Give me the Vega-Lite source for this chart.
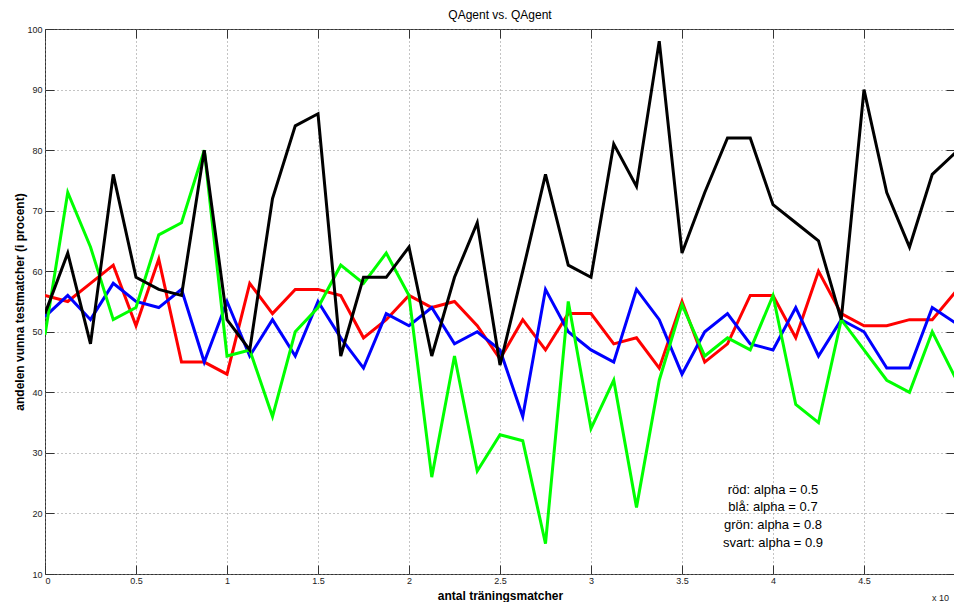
{
  "$schema": "https://vega.github.io/schema/vega-lite/v6.json",
  "width": 910,
  "height": 545,
  "autosize": {"type": "none"},
  "padding": {"left": 45, "top": 29, "right": 0, "bottom": 28},
  "background": "white",
  "config": {
    "view": {"stroke": "#333333", "strokeWidth": 1},
    "font": "Liberation Sans",
    "axis": {
      "grid": true,
      "gridColor": "#888888",
      "gridDash": [1, 3],
      "gridOpacity": 1,
      "domain": false,
      "tickColor": "#333333",
      "tickSize": -9,
      "labelFont": "Liberation Sans",
      "labelFontSize": 9,
      "labelColor": "#222222",
      "titleFont": "Liberation Sans",
      "titleFontSize": 12,
      "titleFontWeight": "bold",
      "titleColor": "#000000"
    }
  },
  "title": {
    "text": "QAgent vs. QAgent",
    "fontSize": 12,
    "fontWeight": "normal",
    "font": "Liberation Sans",
    "color": "#000000",
    "offset": 3
  },
  "resolve": {"axis": {"x": "independent", "y": "independent"}},
  "datasets": {
    "lines": [
      {"s":"röd","x":0,"v":56},{"s":"röd","x":0.125,"v":55},{"s":"röd","x":0.25,"v":58},{"s":"röd","x":0.375,"v":61},{"s":"röd","x":0.5,"v":51},{"s":"röd","x":0.625,"v":62},{"s":"röd","x":0.75,"v":45},{"s":"röd","x":0.875,"v":45},{"s":"röd","x":1,"v":43},{"s":"röd","x":1.125,"v":58},{"s":"röd","x":1.25,"v":53},{"s":"röd","x":1.375,"v":57},{"s":"röd","x":1.5,"v":57},{"s":"röd","x":1.625,"v":56},{"s":"röd","x":1.75,"v":49},{"s":"röd","x":1.875,"v":52},{"s":"röd","x":2,"v":56},{"s":"röd","x":2.125,"v":54},{"s":"röd","x":2.25,"v":55},{"s":"röd","x":2.375,"v":51},{"s":"röd","x":2.5,"v":45.5},{"s":"röd","x":2.625,"v":52},{"s":"röd","x":2.75,"v":47},{"s":"röd","x":2.875,"v":53},{"s":"röd","x":3,"v":53},{"s":"röd","x":3.125,"v":48},{"s":"röd","x":3.25,"v":49},{"s":"röd","x":3.375,"v":44},{"s":"röd","x":3.5,"v":55},{"s":"röd","x":3.625,"v":45},{"s":"röd","x":3.75,"v":48},{"s":"röd","x":3.875,"v":56},{"s":"röd","x":4,"v":56},{"s":"röd","x":4.125,"v":49},{"s":"röd","x":4.25,"v":60},{"s":"röd","x":4.375,"v":53},{"s":"röd","x":4.5,"v":51},{"s":"röd","x":4.625,"v":51},{"s":"röd","x":4.75,"v":52},{"s":"röd","x":4.875,"v":52},{"s":"röd","x":5,"v":56.5},
      {"s":"blå","x":0,"v":52.5},{"s":"blå","x":0.125,"v":56},{"s":"blå","x":0.25,"v":52},{"s":"blå","x":0.375,"v":58},{"s":"blå","x":0.5,"v":55},{"s":"blå","x":0.625,"v":54},{"s":"blå","x":0.75,"v":57},{"s":"blå","x":0.875,"v":45},{"s":"blå","x":1,"v":55},{"s":"blå","x":1.125,"v":46},{"s":"blå","x":1.25,"v":52},{"s":"blå","x":1.375,"v":46},{"s":"blå","x":1.5,"v":55},{"s":"blå","x":1.625,"v":49},{"s":"blå","x":1.75,"v":44},{"s":"blå","x":1.875,"v":53},{"s":"blå","x":2,"v":51},{"s":"blå","x":2.125,"v":54},{"s":"blå","x":2.25,"v":48},{"s":"blå","x":2.375,"v":50},{"s":"blå","x":2.5,"v":47},{"s":"blå","x":2.625,"v":36},{"s":"blå","x":2.75,"v":57},{"s":"blå","x":2.875,"v":50},{"s":"blå","x":3,"v":47},{"s":"blå","x":3.125,"v":45},{"s":"blå","x":3.25,"v":57},{"s":"blå","x":3.375,"v":52},{"s":"blå","x":3.5,"v":43},{"s":"blå","x":3.625,"v":50},{"s":"blå","x":3.75,"v":53},{"s":"blå","x":3.875,"v":48},{"s":"blå","x":4,"v":47},{"s":"blå","x":4.125,"v":54},{"s":"blå","x":4.25,"v":46},{"s":"blå","x":4.375,"v":52},{"s":"blå","x":4.5,"v":50},{"s":"blå","x":4.625,"v":44},{"s":"blå","x":4.75,"v":44},{"s":"blå","x":4.875,"v":54},{"s":"blå","x":5,"v":51.5},
      {"s":"grön","x":0,"v":49.5},{"s":"grön","x":0.125,"v":73},{"s":"grön","x":0.25,"v":64},{"s":"grön","x":0.375,"v":52},{"s":"grön","x":0.5,"v":54},{"s":"grön","x":0.625,"v":66},{"s":"grön","x":0.75,"v":68},{"s":"grön","x":0.875,"v":80},{"s":"grön","x":1,"v":46},{"s":"grön","x":1.125,"v":47},{"s":"grön","x":1.25,"v":36},{"s":"grön","x":1.375,"v":50},{"s":"grön","x":1.5,"v":54},{"s":"grön","x":1.625,"v":61},{"s":"grön","x":1.75,"v":58},{"s":"grön","x":1.875,"v":63},{"s":"grön","x":2,"v":56},{"s":"grön","x":2.125,"v":26},{"s":"grön","x":2.25,"v":46},{"s":"grön","x":2.375,"v":27},{"s":"grön","x":2.5,"v":33},{"s":"grön","x":2.625,"v":32},{"s":"grön","x":2.75,"v":15},{"s":"grön","x":2.875,"v":55},{"s":"grön","x":3,"v":34},{"s":"grön","x":3.125,"v":42},{"s":"grön","x":3.25,"v":21},{"s":"grön","x":3.375,"v":42},{"s":"grön","x":3.5,"v":54.5},{"s":"grön","x":3.625,"v":46},{"s":"grön","x":3.75,"v":49},{"s":"grön","x":3.875,"v":47},{"s":"grön","x":4,"v":56},{"s":"grön","x":4.125,"v":38},{"s":"grön","x":4.25,"v":35},{"s":"grön","x":4.375,"v":52},{"s":"grön","x":4.5,"v":47},{"s":"grön","x":4.625,"v":42},{"s":"grön","x":4.75,"v":40},{"s":"grön","x":4.875,"v":50},{"s":"grön","x":5,"v":42.5},
      {"s":"svart","x":0,"v":53},{"s":"svart","x":0.125,"v":63},{"s":"svart","x":0.25,"v":48},{"s":"svart","x":0.375,"v":76},{"s":"svart","x":0.5,"v":59},{"s":"svart","x":0.625,"v":57},{"s":"svart","x":0.75,"v":56},{"s":"svart","x":0.875,"v":80},{"s":"svart","x":1,"v":52},{"s":"svart","x":1.125,"v":47},{"s":"svart","x":1.25,"v":72},{"s":"svart","x":1.375,"v":84},{"s":"svart","x":1.5,"v":86},{"s":"svart","x":1.625,"v":46},{"s":"svart","x":1.75,"v":59},{"s":"svart","x":1.875,"v":59},{"s":"svart","x":2,"v":64},{"s":"svart","x":2.125,"v":46},{"s":"svart","x":2.25,"v":59},{"s":"svart","x":2.375,"v":68},{"s":"svart","x":2.5,"v":44.5},{"s":"svart","x":2.625,"v":60},{"s":"svart","x":2.75,"v":76},{"s":"svart","x":2.875,"v":61},{"s":"svart","x":3,"v":59},{"s":"svart","x":3.125,"v":81},{"s":"svart","x":3.25,"v":74},{"s":"svart","x":3.375,"v":98},{"s":"svart","x":3.5,"v":63},{"s":"svart","x":3.625,"v":73},{"s":"svart","x":3.75,"v":82},{"s":"svart","x":3.875,"v":82},{"s":"svart","x":4,"v":71},{"s":"svart","x":4.125,"v":68},{"s":"svart","x":4.25,"v":65},{"s":"svart","x":4.375,"v":52},{"s":"svart","x":4.5,"v":90},{"s":"svart","x":4.625,"v":73},{"s":"svart","x":4.75,"v":64},{"s":"svart","x":4.875,"v":76},{"s":"svart","x":5,"v":79.5}
    ],
    "notes": [
      {"t":"röd: alpha = 0.5","x":4.0,"v":23.9},
      {"t":"blå: alpha = 0.7","x":4.0,"v":21.0},
      {"t":"grön: alpha = 0.8","x":4.0,"v":18.1},
      {"t":"svart: alpha = 0.9","x":4.0,"v":15.1}
    ],
    "exp": [
      {"t":"x 10","x":4.92,"v":6.0}
    ]
  },
  "layer": [
    {
      "data": {"name": "lines"},
      "mark": {"type": "line", "strokeWidth": 3, "clip": true},
      "encoding": {
        "x": {
          "field": "x", "type": "quantitative",
          "scale": {"domain": [0, 5], "nice": false, "zero": false},
          "axis": {"values": [0,0.5,1,1.5,2,2.5,3,3.5,4,4.5], "format": "~g", "title": "antal träningsmatcher", "labelPadding": 11, "titlePadding": 5}
        },
        "y": {
          "field": "v", "type": "quantitative",
          "scale": {"domain": [10, 100], "nice": false, "zero": false},
          "axis": {"values": [10,20,30,40,50,60,70,80,90,100], "title": "andelen vunna testmatcher (i procent)", "labelPadding": 12, "titlePadding": 0}
        },
        "color": {
          "field": "s", "type": "nominal",
          "scale": {"domain": ["röd","blå","grön","svart"], "range": ["#ff0000","#0000ff","#00ff00","#000000"]},
          "legend": null
        },
        "order": {"field": "x", "type": "quantitative"}
      }
    },
    {
      "data": {"name": "lines"},
      "mark": {"type": "line", "opacity": 0, "clip": true},
      "encoding": {
        "x": {
          "field": "x", "type": "quantitative",
          "axis": {"orient": "top", "values": [0,0.5,1,1.5,2,2.5,3,3.5,4,4.5], "labels": false, "grid": false, "title": null}
        },
        "y": {
          "field": "v", "type": "quantitative",
          "axis": {"orient": "right", "values": [10,20,30,40,50,60,70,80,90,100], "labels": false, "grid": false, "title": null}
        },
        "detail": {"field": "s"}
      }
    },
    {
      "data": {"name": "notes"},
      "mark": {"type": "text", "fontSize": 13, "font": "Liberation Sans", "align": "center", "baseline": "middle", "color": "#000000"},
      "encoding": {
        "x": {"field": "x", "type": "quantitative", "axis": null},
        "y": {"field": "v", "type": "quantitative", "axis": null},
        "text": {"field": "t"}
      }
    },
    {
      "data": {"name": "exp"},
      "mark": {"type": "text", "fontSize": 9, "font": "Liberation Sans", "align": "center", "baseline": "middle", "color": "#222222"},
      "encoding": {
        "x": {"field": "x", "type": "quantitative", "axis": null},
        "y": {"field": "v", "type": "quantitative", "axis": null},
        "text": {"field": "t"}
      }
    }
  ]
}
